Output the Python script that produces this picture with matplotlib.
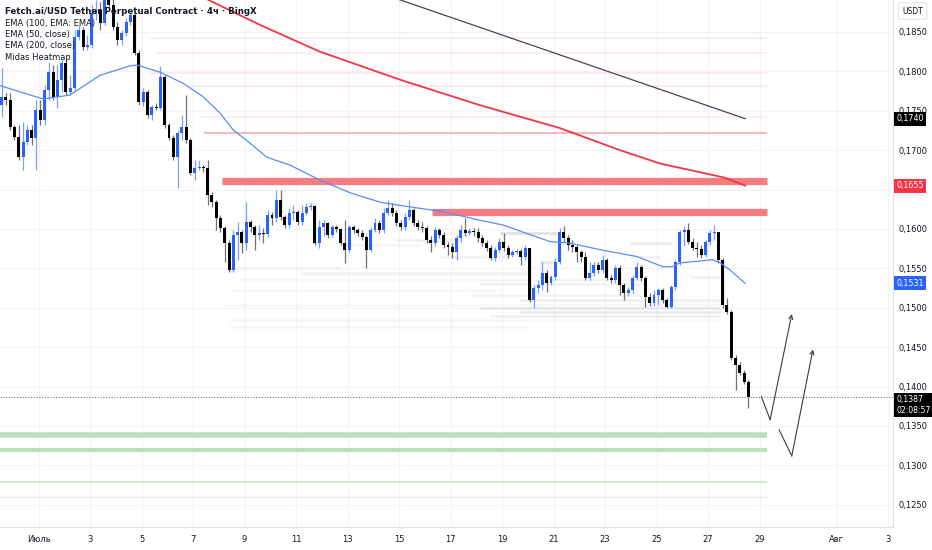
import matplotlib
matplotlib.use("Agg")
import matplotlib.pyplot as plt
import matplotlib.transforms as mtransforms
import numpy as np

# FET/USDT 4h candles, open of each candle = close of previous one
first_open = 0.1768
closes = [0.1757, 0.1768, 0.1764, 0.1730, 0.1717, 0.1691, 0.1710, 0.1726, 0.1716, 0.1751,
          0.1738, 0.1776, 0.1799, 0.1768, 0.1789, 0.1811, 0.1774, 0.1779, 0.1844, 0.1853,
          0.1831, 0.1834, 0.1874, 0.1878, 0.1861, 0.1894, 0.1884, 0.1856, 0.1840, 0.1849,
          0.1863, 0.1872, 0.1823, 0.1761, 0.1774, 0.1745, 0.1755, 0.1754, 0.1793, 0.1732,
          0.1716, 0.1691, 0.1722, 0.1730, 0.1713, 0.1671, 0.1677, 0.1679, 0.1677, 0.1643,
          0.1634, 0.1614, 0.1601, 0.1582, 0.1548, 0.1592, 0.1596, 0.1582, 0.1609, 0.1603,
          0.1592, 0.1595, 0.1594, 0.1618, 0.1614, 0.1637, 0.1615, 0.1605, 0.1620, 0.1622,
          0.1609, 0.1620, 0.1628, 0.1629, 0.1582, 0.1603, 0.1608, 0.1592, 0.1603, 0.1600,
          0.1582, 0.1573, 0.1603, 0.1599, 0.1595, 0.1590, 0.1573, 0.1599, 0.1608, 0.1599,
          0.1620, 0.1627, 0.1620, 0.1608, 0.1603, 0.1615, 0.1624, 0.1608, 0.1603, 0.1601,
          0.1586, 0.1582, 0.1599, 0.1592, 0.1580, 0.1577, 0.1571, 0.1589, 0.1599, 0.1595,
          0.1598, 0.1596, 0.1589, 0.1582, 0.1576, 0.1563, 0.1573, 0.1584, 0.1576, 0.1567,
          0.1571, 0.1572, 0.1564, 0.1576, 0.1510, 0.1525, 0.1529, 0.1544, 0.1532, 0.1539,
          0.1558, 0.1596, 0.1589, 0.1580, 0.1577, 0.1571, 0.1564, 0.1538, 0.1544, 0.1554,
          0.1548, 0.1561, 0.1538, 0.1535, 0.1551, 0.1529, 0.1519, 0.1523, 0.1538, 0.1552,
          0.1538, 0.1514, 0.1506, 0.1516, 0.1523, 0.1510, 0.1501, 0.1527, 0.1558, 0.1596,
          0.1599, 0.1584, 0.1576, 0.1575, 0.1567, 0.1584, 0.1595, 0.1596, 0.1561, 0.1504,
          0.1495, 0.1436, 0.1427, 0.1417, 0.1406, 0.1387]
highs = [0.1770, 0.1804, 0.1773, 0.1773, 0.1732, 0.1732, 0.1736, 0.1732, 0.1732, 0.1764,
         0.1764, 0.1783, 0.1812, 0.1808, 0.1808, 0.1814, 0.1814, 0.1795, 0.1853, 0.1859,
         0.1856, 0.1846, 0.1884, 0.1891, 0.1888, 0.1903, 0.1903, 0.1897, 0.1863, 0.1853,
         0.1868, 0.1874, 0.1874, 0.1827, 0.1779, 0.1776, 0.1757, 0.1760, 0.1807, 0.1795,
         0.1735, 0.1719, 0.1726, 0.1745, 0.1770, 0.1716, 0.1688, 0.1688, 0.1681, 0.1688,
         0.1647, 0.1637, 0.1618, 0.1604, 0.1586, 0.1599, 0.1609, 0.1599, 0.1634, 0.1612,
         0.1605, 0.1605, 0.1601, 0.1624, 0.1622, 0.1650, 0.1650, 0.1618, 0.1627, 0.1631,
         0.1624, 0.1631, 0.1633, 0.1633, 0.1631, 0.1612, 0.1612, 0.1609, 0.1605, 0.1605,
         0.1601, 0.1612, 0.1605, 0.1605, 0.1601, 0.1599, 0.1592, 0.1603, 0.1614, 0.1612,
         0.1627, 0.1637, 0.1633, 0.1624, 0.1612, 0.1620, 0.1637, 0.1627, 0.1612, 0.1609,
         0.1604, 0.1591, 0.1603, 0.1601, 0.1596, 0.1584, 0.1582, 0.1592, 0.1605, 0.1614,
         0.1601, 0.1601, 0.1601, 0.1592, 0.1586, 0.1580, 0.1577, 0.1589, 0.1595, 0.1580,
         0.1573, 0.1575, 0.1575, 0.1580, 0.1576, 0.1529, 0.1535, 0.1558, 0.1548, 0.1542,
         0.1563, 0.1601, 0.1604, 0.1592, 0.1586, 0.1580, 0.1573, 0.1571, 0.1558, 0.1558,
         0.1558, 0.1567, 0.1563, 0.1542, 0.1554, 0.1554, 0.1532, 0.1527, 0.1542, 0.1558,
         0.1554, 0.1540, 0.1519, 0.1523, 0.1525, 0.1525, 0.1513, 0.1529, 0.1561, 0.1599,
         0.1604, 0.1608, 0.1589, 0.1584, 0.1580, 0.1586, 0.1599, 0.1605, 0.1596, 0.1563,
         0.1513, 0.1497, 0.1440, 0.1431, 0.1421, 0.1408]
lows = [0.1751, 0.1742, 0.1757, 0.1726, 0.1713, 0.1688, 0.1675, 0.1707, 0.1707, 0.1675,
        0.1732, 0.1732, 0.1764, 0.1764, 0.1754, 0.1774, 0.1770, 0.1770, 0.1776, 0.1840,
        0.1827, 0.1827, 0.1830, 0.1865, 0.1853, 0.1859, 0.1880, 0.1853, 0.1834, 0.1834,
        0.1845, 0.1859, 0.1821, 0.1757, 0.1756, 0.1741, 0.1738, 0.1751, 0.1751, 0.1728,
        0.1713, 0.1688, 0.1652, 0.1713, 0.1709, 0.1669, 0.1662, 0.1675, 0.1672, 0.1631,
        0.1628, 0.1599, 0.1596, 0.1558, 0.1545, 0.1545, 0.1561, 0.1570, 0.1573, 0.1596,
        0.1573, 0.1586, 0.1582, 0.1590, 0.1605, 0.1609, 0.1612, 0.1601, 0.1601, 0.1612,
        0.1605, 0.1605, 0.1618, 0.1624, 0.1580, 0.1576, 0.1591, 0.1589, 0.1590, 0.1596,
        0.1580, 0.1557, 0.1571, 0.1595, 0.1591, 0.1586, 0.1551, 0.1571, 0.1596, 0.1595,
        0.1595, 0.1618, 0.1617, 0.1604, 0.1599, 0.1599, 0.1612, 0.1604, 0.1599, 0.1596,
        0.1582, 0.1571, 0.1579, 0.1589, 0.1576, 0.1567, 0.1563, 0.1561, 0.1584, 0.1591,
        0.1592, 0.1591, 0.1584, 0.1579, 0.1572, 0.1561, 0.1560, 0.1571, 0.1572, 0.1563,
        0.1564, 0.1568, 0.1554, 0.1561, 0.1507, 0.1500, 0.1519, 0.1523, 0.1520, 0.1529,
        0.1535, 0.1556, 0.1584, 0.1573, 0.1571, 0.1558, 0.1558, 0.1535, 0.1535, 0.1540,
        0.1544, 0.1544, 0.1535, 0.1532, 0.1532, 0.1516, 0.1510, 0.1515, 0.1519, 0.1535,
        0.1534, 0.1501, 0.1502, 0.1502, 0.1504, 0.1506, 0.1500, 0.1500, 0.1523, 0.1554,
        0.1579, 0.1581, 0.1573, 0.1564, 0.1563, 0.1564, 0.1580, 0.1586, 0.1557, 0.1500,
        0.1492, 0.1434, 0.1396, 0.1415, 0.1403, 0.1373]

# time axis: days since 1 July, 4h candles
first_day = -1.6
candle_days = first_day + np.arange(len(closes)) / 6.0

# EMA (50, close) - blue
ema50_days = [-1.50, 0.18, 1.22, 2.39, 3.55, 3.83, 4.72, 5.61, 6.39, 7.05, 7.55, 8.21, 8.87,
              9.77, 10.93, 12.10, 13.26, 14.43, 15.71, 17.15, 18.04, 18.82, 19.86, 20.64,
              21.92, 23.24, 24.25, 24.60, 24.91, 25.57, 26.16, 26.47, 26.85, 27.44]
ema50_vals = [0.1782, 0.1765, 0.1770, 0.1795, 0.1807, 0.1808, 0.1799, 0.1785, 0.1768, 0.1747,
              0.1726, 0.1709, 0.1691, 0.1681, 0.1662, 0.1646, 0.1634, 0.1628, 0.1622, 0.1611,
              0.1605, 0.1596, 0.1584, 0.1582, 0.1573, 0.1565, 0.1552, 0.1552, 0.1557, 0.1559,
              0.1561, 0.1557, 0.1548, 0.1531]
# EMA (200, close) - red
ema200_days = [6.27, 6.58, 8.60, 10.93, 14.08, 17.15, 20.25, 22.58, 24.14, 25.69, 26.66, 27.44]
ema200_vals = [0.1897, 0.1891, 0.1859, 0.1825, 0.1789, 0.1757, 0.1728, 0.1700, 0.1683, 0.1672,
               0.1665, 0.1655]
# EMA (100, EMA: EMA) - dark
ema100_days = [13.84, 27.44]
ema100_vals = [0.1893, 0.1740]

# Midas heatmap levels
red_levels = [0.1661, 0.1621]
red_start = [7.13, 15.28]
pink_levels = [0.1722, 0.1842, 0.1823, 0.1798, 0.1781, 0.1742]
pink_start = [6.43, 4.33, 4.52, 4.33, 5.88, 6.27]
pink_alpha = [0.45, 0.1, 0.1, 0.12, 0.12, 0.1]
green_levels = [0.1339, 0.1320, 0.1279, 0.1260]
green_width = [4.0, 3.0, 1.2, 1.0]
green_alpha = [1.0, 1.0, 0.8, 0.35]
heat_end = 28.27
gray_levels = [0.1595, 0.1586, 0.1580, 0.1582, 0.1564, 0.1564, 0.1558, 0.1550, 0.1544, 0.1539,
               0.1535, 0.1530, 0.1523, 0.1516, 0.1510, 0.1504, 0.1500, 0.1495, 0.1490, 0.1485,
               0.1476]
gray_start = [17.92, 13.84, 11.71, 22.97, 15.59, 22.97, 19.48, 7.44, 10.16, 25.30,
              7.83, 17.15, 7.44, 16.76, 18.70, 7.24, 17.15, 18.70, 17.53, 7.44, 7.44]
gray_end = [20.14, 16.37, 14.81, 24.60, 18.31, 24.14, 20.14, 11.71, 19.09, 26.47,
            23.36, 23.36, 17.92, 23.36, 26.47, 26.47, 26.47, 26.47, 26.47, 26.47, 19.09]
gray_shade = [0.45, 0.22, 0.15, 0.28, 0.18, 0.18, 0.35, 0.12, 0.18, 0.2,
              0.14, 0.18, 0.12, 0.16, 0.22, 0.1, 0.28, 0.32, 0.22, 0.12, 0.1]

last_price = 0.1387
countdown = "02:08:57"

# drawn forecast paths
path1_days = [28.07, 28.41, 29.25]
path1_vals = [0.1387, 0.1358, 0.1492]
path2_days = [28.76, 29.25, 30.07]
path2_vals = [0.1345, 0.1312, 0.1447]

price_ticks = [0.1250, 0.1300, 0.1350, 0.1400, 0.1450, 0.1500, 0.1550, 0.1600, 0.1650,
               0.1700, 0.1750, 0.1800, 0.1850]
hidden_ticks = [0.1650]  # covered by the EMA200 tag
date_ticks = [0, 2, 4, 6, 8, 10, 12, 14, 16, 18, 20, 22, 24, 26, 28, 31, 33]
date_labels = ["Июль", "3", "5", "7", "9", "11", "13", "15", "17", "19", "21", "23", "25",
               "27", "29", "Авг", "3"]

UP = "#2962ff"
UP_WICK = "#7f9ef7"
DOWN = "#000000"
DOWN_WICK = "#707070"
TXT = "#131722"

plt.rcParams['font.family'] = ['DejaVu Sans']
fig = plt.figure(figsize=(9.32, 5.5), dpi=100)
ax = fig.add_axes([0.0, 1 - 527 / 550, 893 / 932, 527 / 550])
ax.set_xlim(-1.495, 33.18)
ax.set_ylim(0.12218, 0.18906)

# grid
for p in price_ticks:
    ax.axhline(p, color="#f0f3fa", lw=0.9, zorder=0)
for d in date_ticks:
    ax.axvline(d, color="#f0f3fa", lw=0.9, zorder=0)

# heatmap
for p, s, a in zip(pink_levels, pink_start, pink_alpha):
    ax.hlines(p, s, heat_end, color="#f7525f", lw=1.3, alpha=a, zorder=1)
for p, s in zip(red_levels, red_start):
    ax.hlines(p, s, heat_end, color="#f77c80", lw=5.2, zorder=1)
for p, w, a in zip(green_levels, green_width, green_alpha):
    ax.hlines(p, -1.6, heat_end, color="#b9e1ba", lw=w, alpha=a, zorder=1)
for p, s, e, a in zip(gray_levels, gray_start, gray_end, gray_shade):
    ax.hlines(p, s, e, color="#9598a1", lw=2.0, alpha=a * 0.6, zorder=1)

# EMAs
ax.plot(ema200_days, ema200_vals, color="#f23645", lw=1.3, zorder=2)
ax.plot(ema100_days, ema100_vals, color="#434651", lw=0.9, zorder=2)
ax.plot(ema50_days, ema50_vals, color="#5b8cf5", lw=0.9, zorder=4)

# candles
opens = np.array([first_open] + closes[:-1])
c = np.array(closes)
h = np.array(highs)
l = np.array(lows)
up = c >= opens
wick_col = np.where(up, UP_WICK, DOWN_WICK)
body_col = np.where(up, UP, DOWN)
ax.vlines(candle_days, l, h, colors=wick_col, lw=0.9, zorder=3)
body_lo = np.minimum(opens, c)
body_h = np.maximum(np.abs(c - opens), 0.00008)
ax.bar(candle_days, body_h, bottom=body_lo, width=0.115, color=body_col, lw=0, zorder=3)

# last price dotted line
ax.axhline(last_price, color="#787b86", lw=0.8, ls=(0, (1, 1.5)), zorder=2)

# forecast paths with arrow heads
for dd, vv in [(path1_days, path1_vals), (path2_days, path2_vals)]:
    ax.plot(dd[:2], vv[:2], color="#363a45", lw=0.8, zorder=5)
    ax.annotate("", xy=(dd[2], vv[2]), xytext=(dd[1], vv[1]),
                arrowprops=dict(arrowstyle="->", color="#363a45", lw=0.8,
                                shrinkA=0, shrinkB=0, mutation_scale=7), zorder=5)

for s in ["top", "left"]:
    ax.spines[s].set_visible(False)
ax.spines["right"].set_color("#e0e3eb")
ax.spines["bottom"].set_color("#e0e3eb")
ax.spines["right"].set_linewidth(0.8)
ax.spines["bottom"].set_linewidth(0.8)

ax.yaxis.tick_right()
ax.set_yticks(price_ticks)
ax.set_yticklabels(["" if p in hidden_ticks else ("%.4f" % p).replace(".", ",")
                    for p in price_ticks])
ax.set_xticks(date_ticks)
ax.set_xticklabels(date_labels)
ax.tick_params(axis="both", length=0, labelsize=6, colors=TXT)
ax.tick_params(axis="y", pad=4)
ax.tick_params(axis="x", pad=6)

# price tags on the scale
tr = mtransforms.blended_transform_factory(ax.transAxes, ax.transData)
tags = [(0.1740, "0,1740", "#000000"), (0.1655, "0,1655", "#f23645"),
        (0.1531, "0,1531", "#2962ff")]
for p, t, col in tags:
    ax.text(1.0035, p, t, transform=tr, fontsize=5.8, color="white", va="center", ha="left",
            bbox=dict(boxstyle="square,pad=0.3", fc=col, ec="none"), zorder=10, clip_on=False)
ax.text(1.0035, last_price + 0.0002, "0,1387\n" + countdown, transform=tr, fontsize=5.6,
        color="white", va="top", ha="left", linespacing=1.2,
        bbox=dict(boxstyle="square,pad=0.25", fc="#000000", ec="none"), zorder=10,
        clip_on=False)
fig.text(0.979, 1 - 11 / 550, "USDT", fontsize=5.5, color=TXT, ha="center", va="center",
         bbox=dict(boxstyle="round,pad=0.5,rounding_size=0.3", fc="white", ec="#e0e3eb", lw=0.8))

# legend text
fig.text(5 / 932, 1 - 11 / 550, "Fetch.ai/USD Tether Perpetual Contract · 4ч · BingX",
         fontsize=6.2, color=TXT, va="center", ha="left", fontweight="semibold", zorder=20)
legend_rows = ["EMA (100, EMA: EMA)", "EMA (50, close)", "EMA (200, close)", "Midas Heatmap"]
for i, t in enumerate(legend_rows):
    fig.text(5 / 932, 1 - (23.5 + 11.2 * i) / 550, t, fontsize=6, color=TXT,
             va="center", ha="left", zorder=20)

fig.savefig("out.png", dpi=100, facecolor="white")
